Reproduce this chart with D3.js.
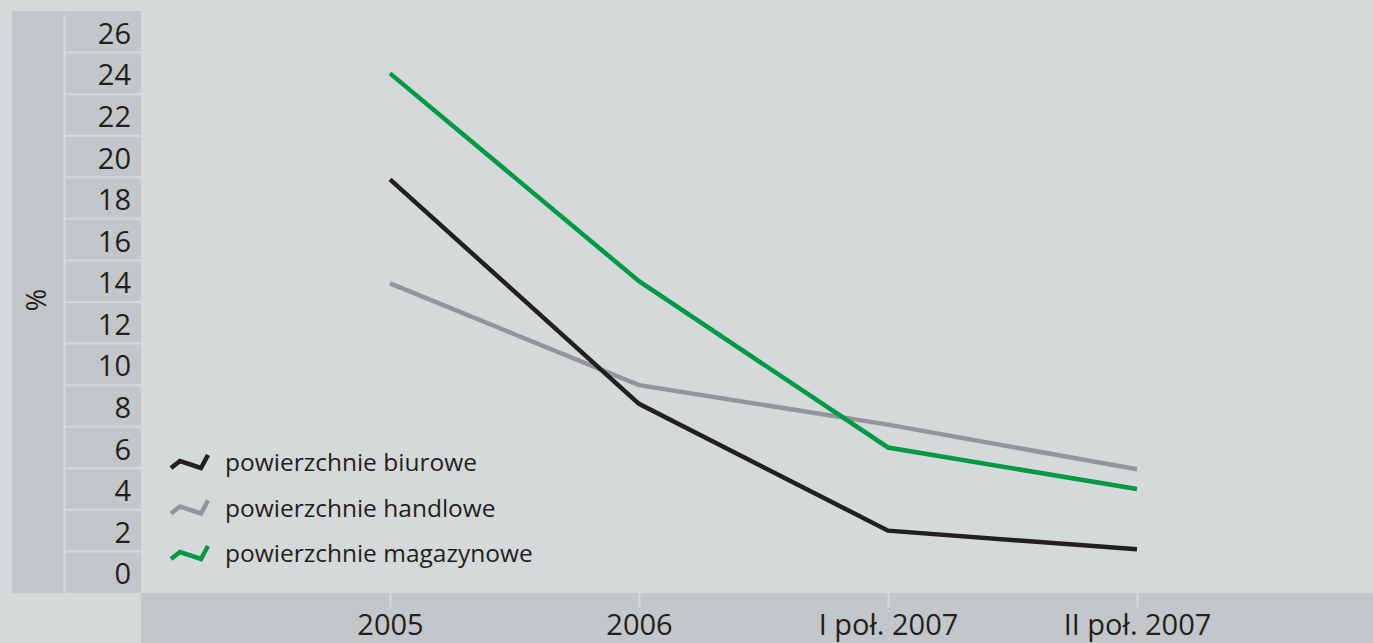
<!DOCTYPE html>
<html>
<head>
<meta charset="utf-8">
<script src="https://cdn.jsdelivr.net/npm/d3@7/dist/d3.min.js"></script>
<style>
  html, body { margin: 0; padding: 0; background: #d5d9da; }
  svg { display: block; }
  text { font-family: "Open Sans", "Noto Sans", sans-serif; fill: #231f20; }
</style>
</head>
<body>
<svg id="chart" width="1373" height="643"></svg>
<script>
// Vacancy rates (%) by property type
const categories = ["2005", "2006", "I poł. 2007", "II poł. 2007"];
const biurowe    = [18.9, 8.1, 2.0, 1.1];
const handlowe   = [13.9, 9.0, 7.1, 4.95];
const magazynowe = [24.0, 14.0, 6.0, 4.0];
const seriesNames  = ["powierzchnie biurowe", "powierzchnie handlowe", "powierzchnie magazynowe"];
const seriesColors = ["#231f20", "#939598", "#009a44"];
const yTickValues  = [0, 2, 4, 6, 8, 10, 12, 14, 16, 18, 20, 22, 24, 26];
const yTitle = "%";

const W = 1373, H = 643;
const bg = "#d5d9da", panel = "#c3c7c9";
const fontStack = "\"Open Sans\", \"Noto Sans\", sans-serif";
const svg = d3.select("#chart");

svg.append("rect").attr("width", W).attr("height", H).attr("fill", bg);

// Scales
const x = d3.scalePoint().domain(categories).range([141, 1386]).padding(1);
const y = d3.scaleLinear().domain([0, 26]).range([572.2, 31.8]);

// Y axis panel: bands of one tick step each, from y(27) to y(-1)
const panelTop = y(27), panelBottom = y(-1);
svg.append("rect")
  .attr("x", 12).attr("y", panelTop)
  .attr("width", 141 - 12).attr("height", panelBottom - panelTop)
  .attr("fill", panel);
svg.append("line")
  .attr("x1", 64.5).attr("x2", 64.5)
  .attr("y1", panelTop + 4).attr("y2", panelBottom)
  .attr("stroke", bg).attr("stroke-width", 2);
svg.selectAll("line.sep")
  .data(yTickValues.slice(1))
  .join("line")
  .attr("class", "sep")
  .attr("x1", 65).attr("x2", 141)
  .attr("y1", d => y(d - 1)).attr("y2", d => y(d - 1))
  .attr("stroke", bg).attr("stroke-width", 2);

const yAxis = svg.append("g")
  .attr("transform", "translate(131,0)")
  .call(d3.axisLeft(y).tickValues(yTickValues).tickSize(0).tickPadding(0));
yAxis.select(".domain").remove();
yAxis.selectAll("text")
  .attr("font-size", 29)
  .attr("font-weight", 400)
  .attr("dy", "0.4em")
  .style("font-family", fontStack)
  .attr("fill", "#231f20");

svg.append("text")
  .attr("transform", "translate(37,300) rotate(-90)")
  .attr("text-anchor", "middle")
  .attr("dy", "0.35em")
  .attr("font-size", 27)
  .attr("font-weight", 400)
  .text(yTitle);

// X axis panel
svg.append("rect")
  .attr("x", 141).attr("y", panelBottom)
  .attr("width", W - 141).attr("height", H - panelBottom)
  .attr("fill", panel);
const xAxis = svg.append("g")
  .attr("transform", `translate(0,${panelBottom})`)
  .call(d3.axisBottom(x).tickSize(15).tickPadding(6));
xAxis.select(".domain").remove();
xAxis.selectAll(".tick line").attr("stroke", bg).attr("stroke-width", 2);
xAxis.selectAll("text")
  .attr("font-size", 29)
  .attr("font-weight", 400)
  .style("font-family", fontStack)
  .attr("fill", "#231f20");

// Lines
const seriesData = [biurowe, handlowe, magazynowe];
const line = d3.line()
  .x((d, i) => x(categories[i]))
  .y(d => y(d));
// draw order: grey, black, green on top
[1, 0, 2].forEach(k => {
  svg.append("path")
    .datum(seriesData[k])
    .attr("d", line)
    .attr("fill", "none")
    .attr("stroke", seriesColors[k])
    .attr("stroke-width", 4.5)
    .attr("stroke-linejoin", "miter")
    .attr("stroke-linecap", "butt");
});

// Legend
const legend = svg.append("g").attr("transform", "translate(171,463)");
const glyph = d3.line()([[0, 5], [9, -2], [30, 5], [37, -8]]);
seriesNames.forEach((name, i) => {
  const g = legend.append("g").attr("transform", `translate(0,${i * 45.5})`);
  g.append("path")
    .attr("d", glyph)
    .attr("fill", "none")
    .attr("stroke", seriesColors[i])
    .attr("stroke-width", 4.5)
    .attr("stroke-linejoin", "miter");
  g.append("text")
    .attr("x", 54)
    .attr("y", 0)
    .attr("dy", "0.33em")
    .attr("font-size", 24.5)
    .attr("font-weight", 400)
    .text(name);
});
</script>
</body>
</html>
